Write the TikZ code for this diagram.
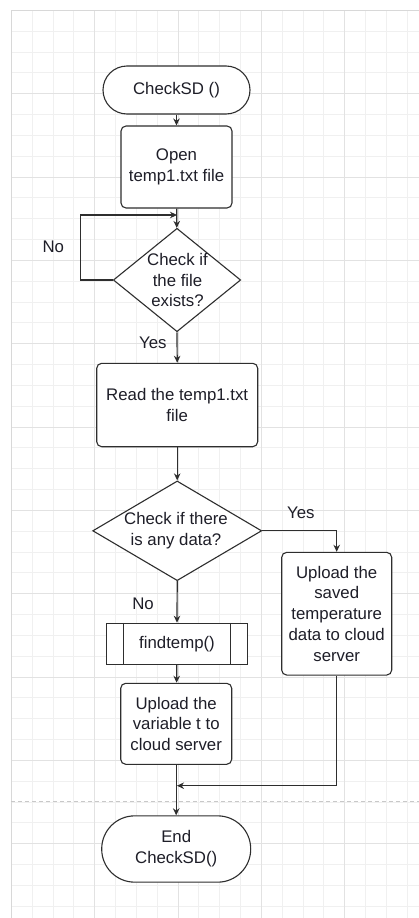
\documentclass[tikz,border=0pt]{standalone}
\usepackage{fontspec}
\setmainfont{Liberation Sans}
\usetikzlibrary{shapes.geometric,arrows.meta}
\definecolor{gridminor}{HTML}{F0F0F0}
\definecolor{gridmajor}{HTML}{E2E2E2}
\definecolor{gridedge}{HTML}{D8D8D8}
\definecolor{pagebreak}{HTML}{C8C8C8}
\definecolor{ink}{HTML}{2E2E2E}
\definecolor{txt}{HTML}{1E1E28}
\begin{document}
\begin{tikzpicture}[x=1pt,y=-1pt,
  every node/.style={font=\fontsize{16.8}{20.8}\selectfont, text=txt},
  box/.style={draw=ink, line width=1.1pt, rounded corners=5pt, fill=white, align=center, inner sep=0pt},
  term/.style={draw=ink, line width=1.1pt, fill=white, align=center, inner sep=0pt},
  decision/.style={diamond, draw=ink, line width=1.1pt, fill=white, inner sep=0pt},
  subproc/.style={draw=ink, line width=1.1pt, fill=white, align=center, inner sep=0pt},
  flow/.style={draw=ink, line width=1.2pt, -{Stealth[length=7pt,width=6.5pt]}},
  lab/.style={inner sep=0pt, align=center},
  minorline/.style={draw=gridminor, line width=1pt},
  majorline/.style={draw=gridmajor, line width=1pt}
]
\useasboundingbox (0,0) rectangle (419,918);
\fill[white] (0,0) rectangle (419,918);

% background grid, lines snapped to pixel centres
\foreach \i in {1,...,19} {
  \pgfmathsetmacro\gx{round(11+\i*20.8333)+0.5}
  \draw[minorline] (\gx,10) -- (\gx,918);}
\foreach \j in {1,...,43} {
  \pgfmathsetmacro\gy{round(10+\j*20.8333)+0.5}
  \draw[minorline] (11,\gy) -- (419,\gy);}
\foreach \i in {4,8,12,16} {
  \pgfmathsetmacro\gx{round(11+\i*20.8333)+0.5}
  \draw[majorline] (\gx,10) -- (\gx,918);}
\foreach \j in {4,8,...,40} {
  \pgfmathsetmacro\gy{round(10+\j*20.8333)+0.5}
  \draw[majorline] (11,\gy) -- (419,\gy);}
\draw[gridedge, line width=1pt] (11.5,918) -- (11.5,10.5) -- (419,10.5);
\draw[pagebreak, line width=1pt, dash pattern=on 4pt off 3pt] (11,801.5) -- (419,801.5);

% flowchart shapes
\node[term, rounded corners=24pt, minimum width=147pt, minimum height=48pt] (start) at (176.5,90) {CheckSD ()};
\node[box, minimum width=111pt, minimum height=82pt] (open) at (176.5,167) {Open\\temp1.txt file};
\node[decision, minimum width=127.4pt, minimum height=103.4pt] (d1) at (177,280) {};
\node[lab] (d1t) at (177.5,280) {Check if\\the file\\exists?};
\node[box, minimum width=161pt, minimum height=83.4pt] (read) at (177.2,405) {Read the temp1.txt\\file};
\node[decision, minimum width=169pt, minimum height=99.7pt] (d2) at (177.2,530.8) {};
\node[lab] (d2t) at (176,531) {Check if there\\is any data?};
\node[box, minimum width=110pt, minimum height=122.7pt] (saved) at (336.7,613.7) {Upload the\\saved\\temperature\\data to cloud\\server};
\node[subproc, minimum width=140.6pt, minimum height=41pt] (ft) at (177,643.8) {findtemp()};
\draw[draw=ink, line width=1.1pt] ([xshift=17.6pt]ft.north west) -- ([xshift=17.6pt]ft.south west)
  ([xshift=-17.3pt]ft.north east) -- ([xshift=-17.3pt]ft.south east);
\node[box, minimum width=111pt, minimum height=81pt] (upt) at (176.2,723.8) {Upload the\\variable t to\\cloud server};
\node[term, rounded corners=33pt, minimum width=149pt, minimum height=66.3pt] (end) at (176.2,849) {End\\CheckSD()};

% branch labels
\node[lab] (no1) at (53.3,246.5) {No};
\node[lab] (yes1) at (152.8,342.7) {Yes};
\node[lab] (yes2) at (300.8,512.5) {Yes};
\node[lab] (no2) at (143,603.5) {No};

% junction points
\coordinate (j1) at (177,215);
\coordinate (j2) at (177,785.7);

% connectors
\draw[flow] (start) -- (open);
\draw[flow] (open) -- (d1);
\draw[flow] (d1.west) -- ++(-32.3,0) |- (j1);
\draw[flow] (d1.south) -- (read.north);
\draw[flow] (read) -- (d2);
\draw[flow] (d2.east) -| (saved.north);
\draw[flow] (d2.south) -- (ft.north);
\draw[flow] (ft) -- (upt);
\draw[flow] (upt) -- (end);
\draw[flow] (saved.south) |- (j2);
\end{tikzpicture}
\end{document}
